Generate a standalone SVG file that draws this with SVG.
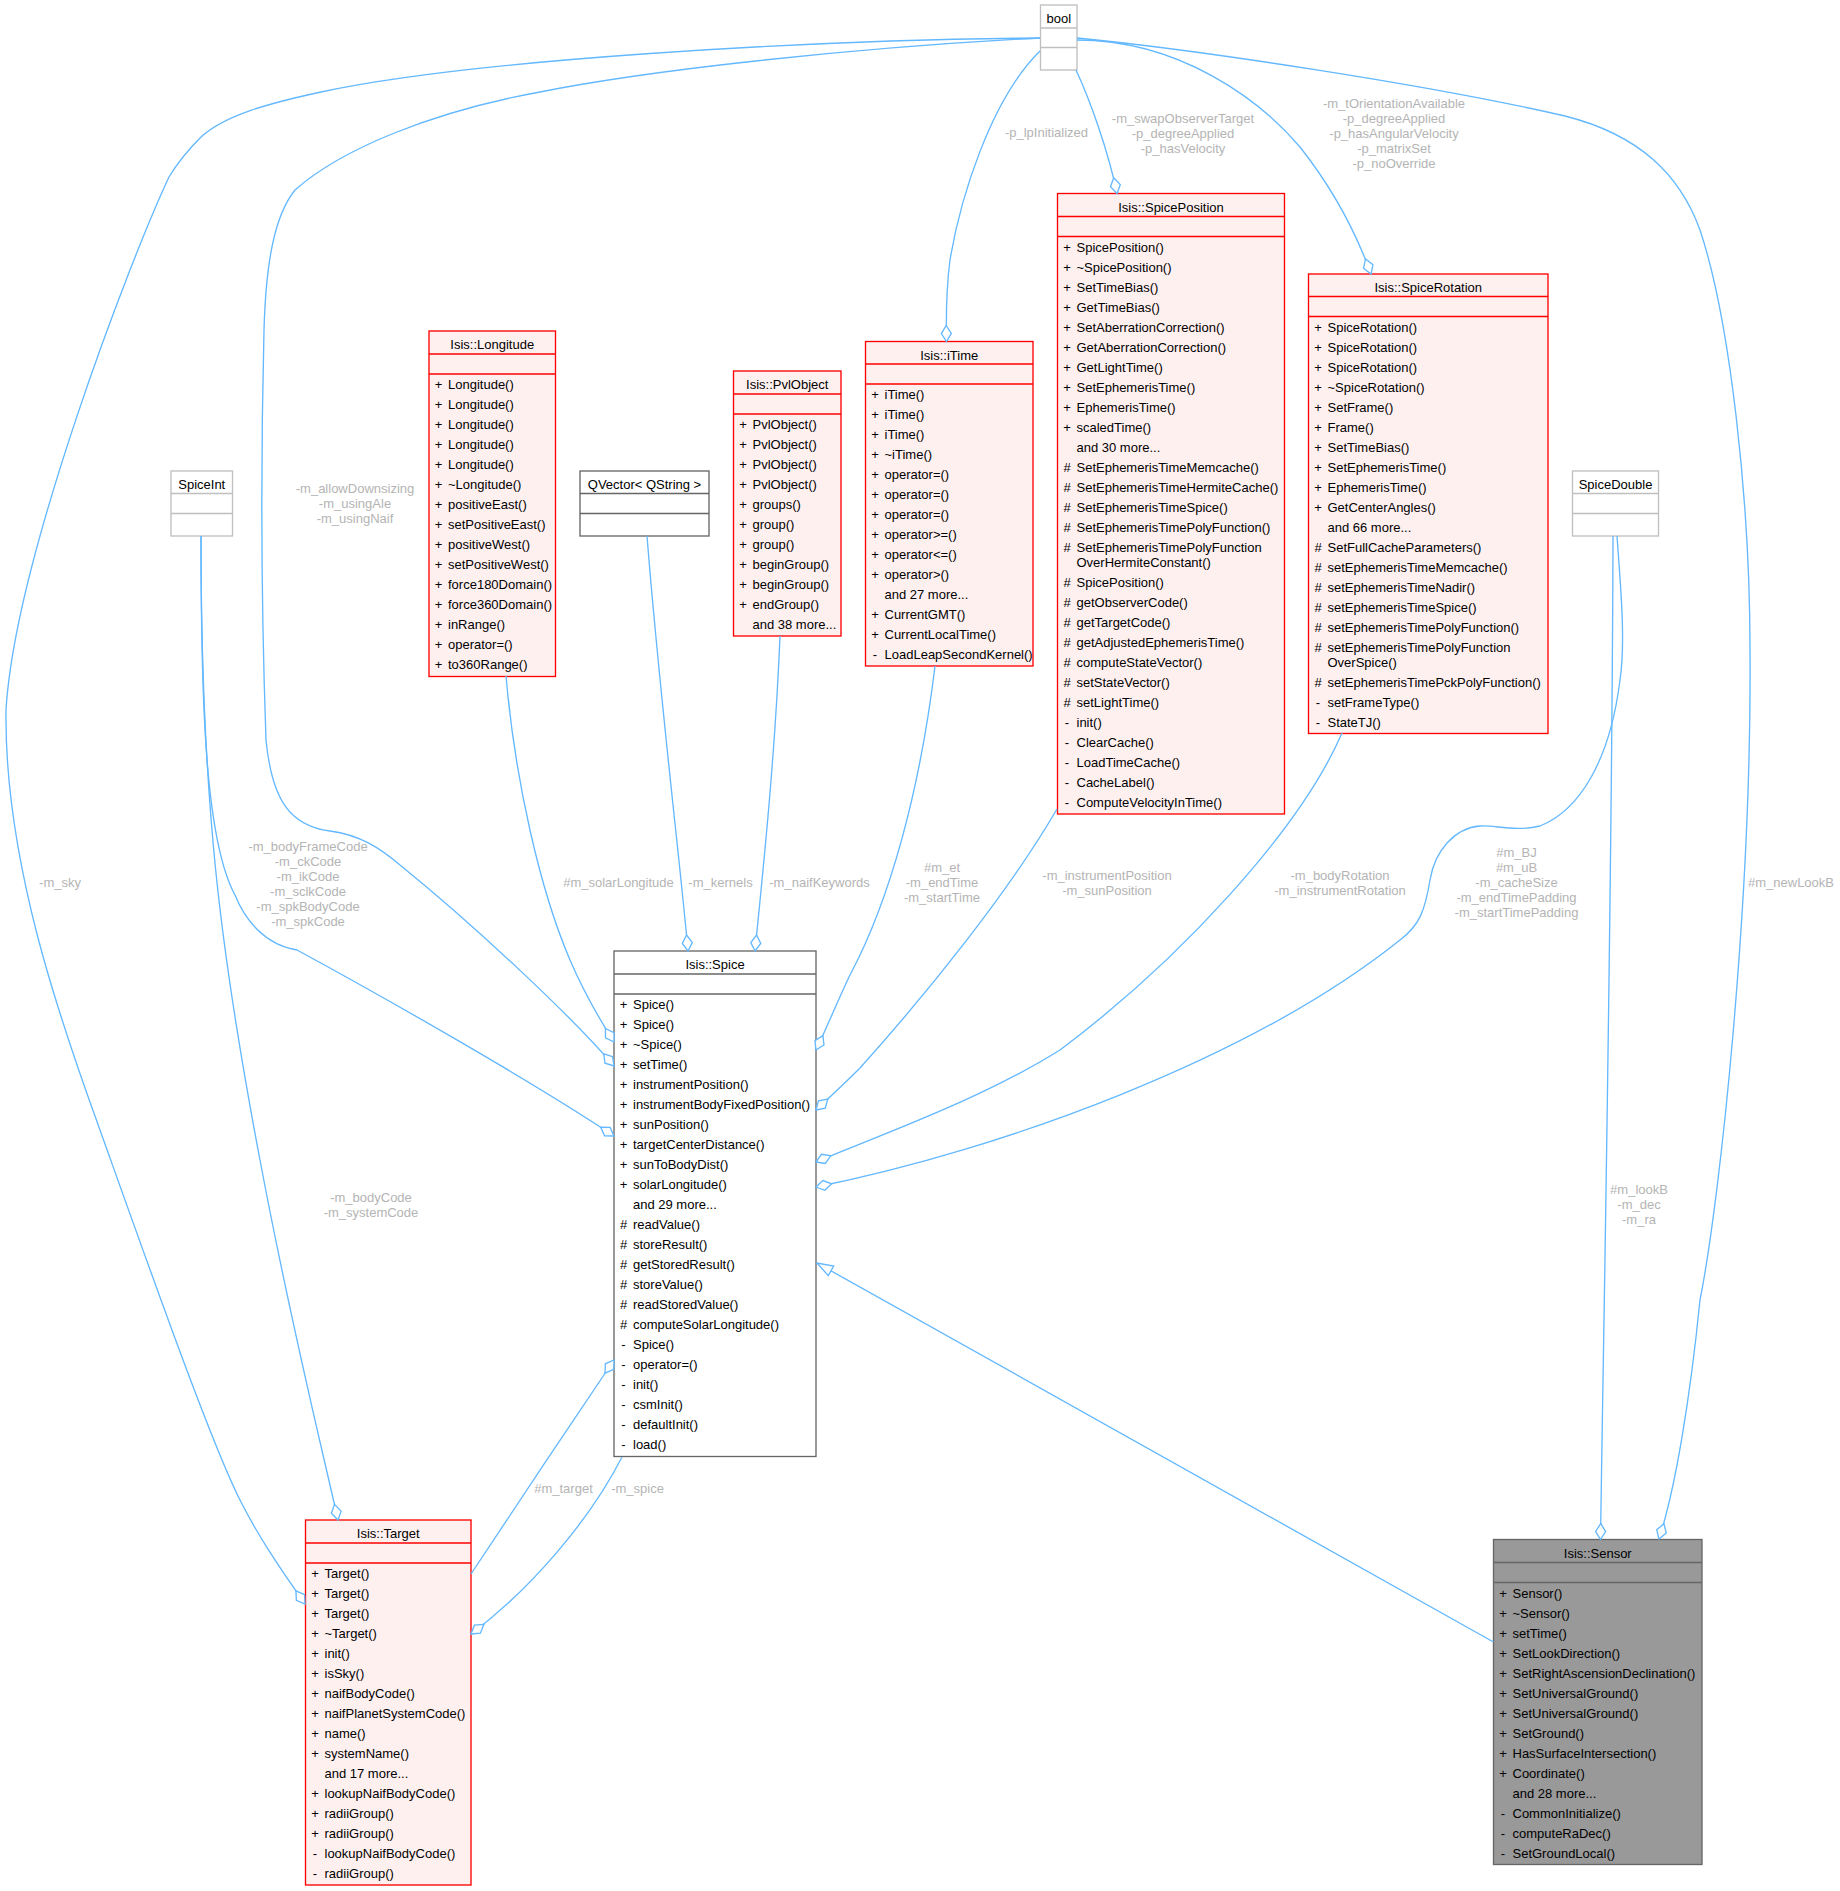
<svg xmlns="http://www.w3.org/2000/svg" width="1840" height="1891" viewBox="0 0 1840 1891">
<style>
text{font-family:"Liberation Sans",Arial,Helvetica,sans-serif;font-size:13px;fill:#000}
.m{text-anchor:middle}
.lb{fill:#b4b4b4;text-anchor:middle}
.e{fill:none;stroke:#63b8ff;stroke-width:1.33}
.red rect{fill:#fff0f0;stroke:#ff0000;stroke-width:1.33}
.red line{stroke:#ff0000;stroke-width:1.33}
.g75 rect{fill:#ffffff;stroke:#bfbfbf;stroke-width:1.33}
.g75 line{stroke:#bfbfbf;stroke-width:1.33}
.g40 rect{fill:#ffffff;stroke:#666666;stroke-width:1.33}
.g40 line{stroke:#666666;stroke-width:1.33}
.cur rect{fill:#999999;stroke:#666666;stroke-width:1.33}
.cur line{stroke:#666666;stroke-width:1.33}
</style>
<defs>
<marker id="dia" markerUnits="userSpaceOnUse" markerWidth="20" markerHeight="12" refX="0" refY="0" orient="auto" overflow="visible">
<polygon points="0,0 -8,-5 -16,0 -8,5" fill="#ffffff" stroke="#63b8ff" stroke-width="1.33"/>
</marker>
<marker id="tri" markerUnits="userSpaceOnUse" markerWidth="20" markerHeight="12" refX="0" refY="0" orient="auto" overflow="visible">
<polygon points="0,0 -16,-5.5 -16,5.5" fill="#ffffff" stroke="#63b8ff" stroke-width="1.33"/>
</marker>
</defs>
<rect x="0" y="0" width="1840" height="1891" fill="#ffffff"/>

<g id="node-bool" class="g75">
<rect x="1040.5" y="5" width="36.5" height="65"/>
<line x1="1040.5" y1="28" x2="1077" y2="28"/><line x1="1040.5" y1="47.5" x2="1077" y2="47.5"/>
<text class="m" x="1058.75" y="23">bool</text>
</g>

<g id="node-spiceint" class="g75">
<rect x="171" y="471" width="61.5" height="65"/>
<line x1="171" y1="493.5" x2="232.5" y2="493.5"/><line x1="171" y1="513.5" x2="232.5" y2="513.5"/>
<text class="m" x="201.75" y="489">SpiceInt</text>
</g>

<g id="node-qvector" class="g40">
<rect x="580" y="471" width="129" height="65"/>
<line x1="580" y1="493.5" x2="709" y2="493.5"/><line x1="580" y1="513.5" x2="709" y2="513.5"/>
<text class="m" x="644.5" y="489">QVector&lt; QString &gt;</text>
</g>

<g id="node-spicedouble" class="g75">
<rect x="1572.5" y="471" width="86" height="65"/>
<line x1="1572.5" y1="493.5" x2="1658.5" y2="493.5"/><line x1="1572.5" y1="513.5" x2="1658.5" y2="513.5"/>
<text class="m" x="1615.5" y="489">SpiceDouble</text>
</g>

<g id="node-longitude" class="red">
<rect x="429" y="331" width="126.5" height="345.5"/>
<line x1="429" y1="354" x2="555.5" y2="354"/><line x1="429" y1="374" x2="555.5" y2="374"/>
<text class="m" x="492.25" y="349">Isis::Longitude</text>
<text class="m" x="438.5" y="389">+</text><text x="448" y="389">Longitude()</text>
<text class="m" x="438.5" y="409">+</text><text x="448" y="409">Longitude()</text>
<text class="m" x="438.5" y="429">+</text><text x="448" y="429">Longitude()</text>
<text class="m" x="438.5" y="449">+</text><text x="448" y="449">Longitude()</text>
<text class="m" x="438.5" y="469">+</text><text x="448" y="469">Longitude()</text>
<text class="m" x="438.5" y="489">+</text><text x="448" y="489">~Longitude()</text>
<text class="m" x="438.5" y="509">+</text><text x="448" y="509">positiveEast()</text>
<text class="m" x="438.5" y="529">+</text><text x="448" y="529">setPositiveEast()</text>
<text class="m" x="438.5" y="549">+</text><text x="448" y="549">positiveWest()</text>
<text class="m" x="438.5" y="569">+</text><text x="448" y="569">setPositiveWest()</text>
<text class="m" x="438.5" y="589">+</text><text x="448" y="589">force180Domain()</text>
<text class="m" x="438.5" y="609">+</text><text x="448" y="609">force360Domain()</text>
<text class="m" x="438.5" y="629">+</text><text x="448" y="629">inRange()</text>
<text class="m" x="438.5" y="649">+</text><text x="448" y="649">operator=()</text>
<text class="m" x="438.5" y="669">+</text><text x="448" y="669">to360Range()</text>
</g>

<g id="node-pvlobject" class="red">
<rect x="733.5" y="371" width="107.5" height="265"/>
<line x1="733.5" y1="394" x2="841" y2="394"/><line x1="733.5" y1="414" x2="841" y2="414"/>
<text class="m" x="787.25" y="389">Isis::PvlObject</text>
<text class="m" x="743" y="429">+</text><text x="752.5" y="429">PvlObject()</text>
<text class="m" x="743" y="449">+</text><text x="752.5" y="449">PvlObject()</text>
<text class="m" x="743" y="469">+</text><text x="752.5" y="469">PvlObject()</text>
<text class="m" x="743" y="489">+</text><text x="752.5" y="489">PvlObject()</text>
<text class="m" x="743" y="509">+</text><text x="752.5" y="509">groups()</text>
<text class="m" x="743" y="529">+</text><text x="752.5" y="529">group()</text>
<text class="m" x="743" y="549">+</text><text x="752.5" y="549">group()</text>
<text class="m" x="743" y="569">+</text><text x="752.5" y="569">beginGroup()</text>
<text class="m" x="743" y="589">+</text><text x="752.5" y="589">beginGroup()</text>
<text class="m" x="743" y="609">+</text><text x="752.5" y="609">endGroup()</text>
<text x="752.5" y="629">and 38 more...</text>
</g>

<g id="node-itime" class="red">
<rect x="865.5" y="341.5" width="167.5" height="324.5"/>
<line x1="865.5" y1="364" x2="1033" y2="364"/><line x1="865.5" y1="384" x2="1033" y2="384"/>
<text class="m" x="949.25" y="359.5">Isis::iTime</text>
<text class="m" x="875" y="399">+</text><text x="884.5" y="399">iTime()</text>
<text class="m" x="875" y="419">+</text><text x="884.5" y="419">iTime()</text>
<text class="m" x="875" y="439">+</text><text x="884.5" y="439">iTime()</text>
<text class="m" x="875" y="459">+</text><text x="884.5" y="459">~iTime()</text>
<text class="m" x="875" y="479">+</text><text x="884.5" y="479">operator=()</text>
<text class="m" x="875" y="499">+</text><text x="884.5" y="499">operator=()</text>
<text class="m" x="875" y="519">+</text><text x="884.5" y="519">operator=()</text>
<text class="m" x="875" y="539">+</text><text x="884.5" y="539">operator&gt;=()</text>
<text class="m" x="875" y="559">+</text><text x="884.5" y="559">operator&lt;=()</text>
<text class="m" x="875" y="579">+</text><text x="884.5" y="579">operator&gt;()</text>
<text x="884.5" y="599">and 27 more...</text>
<text class="m" x="875" y="619">+</text><text x="884.5" y="619">CurrentGMT()</text>
<text class="m" x="875" y="639">+</text><text x="884.5" y="639">CurrentLocalTime()</text>
<text class="m" x="875" y="659">-</text><text x="884.5" y="659">LoadLeapSecondKernel()</text>
</g>

<g id="node-spiceposition" class="red">
<rect x="1057.5" y="193.5" width="227" height="620.5"/>
<line x1="1057.5" y1="216.5" x2="1284.5" y2="216.5"/><line x1="1057.5" y1="236.5" x2="1284.5" y2="236.5"/>
<text class="m" x="1171" y="211.5">Isis::SpicePosition</text>
<text class="m" x="1067" y="251.5">+</text><text x="1076.5" y="251.5">SpicePosition()</text>
<text class="m" x="1067" y="271.5">+</text><text x="1076.5" y="271.5">~SpicePosition()</text>
<text class="m" x="1067" y="291.5">+</text><text x="1076.5" y="291.5">SetTimeBias()</text>
<text class="m" x="1067" y="311.5">+</text><text x="1076.5" y="311.5">GetTimeBias()</text>
<text class="m" x="1067" y="331.5">+</text><text x="1076.5" y="331.5">SetAberrationCorrection()</text>
<text class="m" x="1067" y="351.5">+</text><text x="1076.5" y="351.5">GetAberrationCorrection()</text>
<text class="m" x="1067" y="371.5">+</text><text x="1076.5" y="371.5">GetLightTime()</text>
<text class="m" x="1067" y="391.5">+</text><text x="1076.5" y="391.5">SetEphemerisTime()</text>
<text class="m" x="1067" y="411.5">+</text><text x="1076.5" y="411.5">EphemerisTime()</text>
<text class="m" x="1067" y="431.5">+</text><text x="1076.5" y="431.5">scaledTime()</text>
<text x="1076.5" y="451.5">and 30 more...</text>
<text class="m" x="1067" y="471.5">#</text><text x="1076.5" y="471.5">SetEphemerisTimeMemcache()</text>
<text class="m" x="1067" y="491.5">#</text><text x="1076.5" y="491.5">SetEphemerisTimeHermiteCache()</text>
<text class="m" x="1067" y="511.5">#</text><text x="1076.5" y="511.5">SetEphemerisTimeSpice()</text>
<text class="m" x="1067" y="531.5">#</text><text x="1076.5" y="531.5">SetEphemerisTimePolyFunction()</text>
<text class="m" x="1067" y="551.5">#</text><text x="1076.5" y="551.5">SetEphemerisTimePolyFunction</text>
<text x="1076.5" y="566.5">OverHermiteConstant()</text>
<text class="m" x="1067" y="586.5">#</text><text x="1076.5" y="586.5">SpicePosition()</text>
<text class="m" x="1067" y="606.5">#</text><text x="1076.5" y="606.5">getObserverCode()</text>
<text class="m" x="1067" y="626.5">#</text><text x="1076.5" y="626.5">getTargetCode()</text>
<text class="m" x="1067" y="646.5">#</text><text x="1076.5" y="646.5">getAdjustedEphemerisTime()</text>
<text class="m" x="1067" y="666.5">#</text><text x="1076.5" y="666.5">computeStateVector()</text>
<text class="m" x="1067" y="686.5">#</text><text x="1076.5" y="686.5">setStateVector()</text>
<text class="m" x="1067" y="706.5">#</text><text x="1076.5" y="706.5">setLightTime()</text>
<text class="m" x="1067" y="726.5">-</text><text x="1076.5" y="726.5">init()</text>
<text class="m" x="1067" y="746.5">-</text><text x="1076.5" y="746.5">ClearCache()</text>
<text class="m" x="1067" y="766.5">-</text><text x="1076.5" y="766.5">LoadTimeCache()</text>
<text class="m" x="1067" y="786.5">-</text><text x="1076.5" y="786.5">CacheLabel()</text>
<text class="m" x="1067" y="806.5">-</text><text x="1076.5" y="806.5">ComputeVelocityInTime()</text>
</g>

<g id="node-spicerotation" class="red">
<rect x="1308.5" y="274" width="239.5" height="459.5"/>
<line x1="1308.5" y1="296.5" x2="1548" y2="296.5"/><line x1="1308.5" y1="316.5" x2="1548" y2="316.5"/>
<text class="m" x="1428.25" y="292">Isis::SpiceRotation</text>
<text class="m" x="1318" y="331.5">+</text><text x="1327.5" y="331.5">SpiceRotation()</text>
<text class="m" x="1318" y="351.5">+</text><text x="1327.5" y="351.5">SpiceRotation()</text>
<text class="m" x="1318" y="371.5">+</text><text x="1327.5" y="371.5">SpiceRotation()</text>
<text class="m" x="1318" y="391.5">+</text><text x="1327.5" y="391.5">~SpiceRotation()</text>
<text class="m" x="1318" y="411.5">+</text><text x="1327.5" y="411.5">SetFrame()</text>
<text class="m" x="1318" y="431.5">+</text><text x="1327.5" y="431.5">Frame()</text>
<text class="m" x="1318" y="451.5">+</text><text x="1327.5" y="451.5">SetTimeBias()</text>
<text class="m" x="1318" y="471.5">+</text><text x="1327.5" y="471.5">SetEphemerisTime()</text>
<text class="m" x="1318" y="491.5">+</text><text x="1327.5" y="491.5">EphemerisTime()</text>
<text class="m" x="1318" y="511.5">+</text><text x="1327.5" y="511.5">GetCenterAngles()</text>
<text x="1327.5" y="531.5">and 66 more...</text>
<text class="m" x="1318" y="551.5">#</text><text x="1327.5" y="551.5">SetFullCacheParameters()</text>
<text class="m" x="1318" y="571.5">#</text><text x="1327.5" y="571.5">setEphemerisTimeMemcache()</text>
<text class="m" x="1318" y="591.5">#</text><text x="1327.5" y="591.5">setEphemerisTimeNadir()</text>
<text class="m" x="1318" y="611.5">#</text><text x="1327.5" y="611.5">setEphemerisTimeSpice()</text>
<text class="m" x="1318" y="631.5">#</text><text x="1327.5" y="631.5">setEphemerisTimePolyFunction()</text>
<text class="m" x="1318" y="651.5">#</text><text x="1327.5" y="651.5">setEphemerisTimePolyFunction</text>
<text x="1327.5" y="666.5">OverSpice()</text>
<text class="m" x="1318" y="686.5">#</text><text x="1327.5" y="686.5">setEphemerisTimePckPolyFunction()</text>
<text class="m" x="1318" y="706.5">-</text><text x="1327.5" y="706.5">setFrameType()</text>
<text class="m" x="1318" y="726.5">-</text><text x="1327.5" y="726.5">StateTJ()</text>
</g>

<g id="node-spice" class="g40">
<rect x="614" y="951" width="202" height="505.5"/>
<line x1="614" y1="974" x2="816" y2="974"/><line x1="614" y1="994" x2="816" y2="994"/>
<text class="m" x="715" y="969">Isis::Spice</text>
<text class="m" x="623.5" y="1009">+</text><text x="633" y="1009">Spice()</text>
<text class="m" x="623.5" y="1029">+</text><text x="633" y="1029">Spice()</text>
<text class="m" x="623.5" y="1049">+</text><text x="633" y="1049">~Spice()</text>
<text class="m" x="623.5" y="1069">+</text><text x="633" y="1069">setTime()</text>
<text class="m" x="623.5" y="1089">+</text><text x="633" y="1089">instrumentPosition()</text>
<text class="m" x="623.5" y="1109">+</text><text x="633" y="1109">instrumentBodyFixedPosition()</text>
<text class="m" x="623.5" y="1129">+</text><text x="633" y="1129">sunPosition()</text>
<text class="m" x="623.5" y="1149">+</text><text x="633" y="1149">targetCenterDistance()</text>
<text class="m" x="623.5" y="1169">+</text><text x="633" y="1169">sunToBodyDist()</text>
<text class="m" x="623.5" y="1189">+</text><text x="633" y="1189">solarLongitude()</text>
<text x="633" y="1209">and 29 more...</text>
<text class="m" x="623.5" y="1229">#</text><text x="633" y="1229">readValue()</text>
<text class="m" x="623.5" y="1249">#</text><text x="633" y="1249">storeResult()</text>
<text class="m" x="623.5" y="1269">#</text><text x="633" y="1269">getStoredResult()</text>
<text class="m" x="623.5" y="1289">#</text><text x="633" y="1289">storeValue()</text>
<text class="m" x="623.5" y="1309">#</text><text x="633" y="1309">readStoredValue()</text>
<text class="m" x="623.5" y="1329">#</text><text x="633" y="1329">computeSolarLongitude()</text>
<text class="m" x="623.5" y="1349">-</text><text x="633" y="1349">Spice()</text>
<text class="m" x="623.5" y="1369">-</text><text x="633" y="1369">operator=()</text>
<text class="m" x="623.5" y="1389">-</text><text x="633" y="1389">init()</text>
<text class="m" x="623.5" y="1409">-</text><text x="633" y="1409">csmInit()</text>
<text class="m" x="623.5" y="1429">-</text><text x="633" y="1429">defaultInit()</text>
<text class="m" x="623.5" y="1449">-</text><text x="633" y="1449">load()</text>
</g>

<g id="node-target" class="red">
<rect x="305.5" y="1520" width="165.5" height="365"/>
<line x1="305.5" y1="1543" x2="471" y2="1543"/><line x1="305.5" y1="1563" x2="471" y2="1563"/>
<text class="m" x="388.25" y="1538">Isis::Target</text>
<text class="m" x="315" y="1578">+</text><text x="324.5" y="1578">Target()</text>
<text class="m" x="315" y="1598">+</text><text x="324.5" y="1598">Target()</text>
<text class="m" x="315" y="1618">+</text><text x="324.5" y="1618">Target()</text>
<text class="m" x="315" y="1638">+</text><text x="324.5" y="1638">~Target()</text>
<text class="m" x="315" y="1658">+</text><text x="324.5" y="1658">init()</text>
<text class="m" x="315" y="1678">+</text><text x="324.5" y="1678">isSky()</text>
<text class="m" x="315" y="1698">+</text><text x="324.5" y="1698">naifBodyCode()</text>
<text class="m" x="315" y="1718">+</text><text x="324.5" y="1718">naifPlanetSystemCode()</text>
<text class="m" x="315" y="1738">+</text><text x="324.5" y="1738">name()</text>
<text class="m" x="315" y="1758">+</text><text x="324.5" y="1758">systemName()</text>
<text x="324.5" y="1778">and 17 more...</text>
<text class="m" x="315" y="1798">+</text><text x="324.5" y="1798">lookupNaifBodyCode()</text>
<text class="m" x="315" y="1818">+</text><text x="324.5" y="1818">radiiGroup()</text>
<text class="m" x="315" y="1838">+</text><text x="324.5" y="1838">radiiGroup()</text>
<text class="m" x="315" y="1858">-</text><text x="324.5" y="1858">lookupNaifBodyCode()</text>
<text class="m" x="315" y="1878">-</text><text x="324.5" y="1878">radiiGroup()</text>
</g>

<g id="node-sensor" class="cur">
<rect x="1493.5" y="1539.5" width="208.5" height="325"/>
<line x1="1493.5" y1="1562.5" x2="1702" y2="1562.5"/><line x1="1493.5" y1="1582.5" x2="1702" y2="1582.5"/>
<text class="m" x="1597.75" y="1557.5">Isis::Sensor</text>
<text class="m" x="1503" y="1597.5">+</text><text x="1512.5" y="1597.5">Sensor()</text>
<text class="m" x="1503" y="1617.5">+</text><text x="1512.5" y="1617.5">~Sensor()</text>
<text class="m" x="1503" y="1637.5">+</text><text x="1512.5" y="1637.5">setTime()</text>
<text class="m" x="1503" y="1657.5">+</text><text x="1512.5" y="1657.5">SetLookDirection()</text>
<text class="m" x="1503" y="1677.5">+</text><text x="1512.5" y="1677.5">SetRightAscensionDeclination()</text>
<text class="m" x="1503" y="1697.5">+</text><text x="1512.5" y="1697.5">SetUniversalGround()</text>
<text class="m" x="1503" y="1717.5">+</text><text x="1512.5" y="1717.5">SetUniversalGround()</text>
<text class="m" x="1503" y="1737.5">+</text><text x="1512.5" y="1737.5">SetGround()</text>
<text class="m" x="1503" y="1757.5">+</text><text x="1512.5" y="1757.5">HasSurfaceIntersection()</text>
<text class="m" x="1503" y="1777.5">+</text><text x="1512.5" y="1777.5">Coordinate()</text>
<text x="1512.5" y="1797.5">and 28 more...</text>
<text class="m" x="1503" y="1817.5">-</text><text x="1512.5" y="1817.5">CommonInitialize()</text>
<text class="m" x="1503" y="1837.5">-</text><text x="1512.5" y="1837.5">computeRaDec()</text>
<text class="m" x="1503" y="1857.5">-</text><text x="1512.5" y="1857.5">SetGroundLocal()</text>
</g>

<g id="connectors">
<path class="e" marker-end="url(#dia)" d="M1040,38 C800,40 470,60 321,92 C270,103 225,115 201,137 C188,150 178,162 169,177 C130,260 15,560 6,710 C4,860 60,1020 100,1130 C150,1270 210,1440 240,1500 C260,1540 285,1575 305,1604"/>
<text class="lb" x="60" y="887">-m_sky</text>

<path class="e" marker-end="url(#dia)" d="M1040,38 C850,48 650,70 540,92 C430,112 340,150 295,190 C275,215 266,260 264,330 C261,450 261,600 266,740 C272,800 290,826 330,831 C360,835 380,848 400,865 C480,930 575,1020 614,1066"/>
<text class="lb" x="355" y="493">-m_allowDownsizing</text>
<text class="lb" x="355" y="508">-m_usingAle</text>
<text class="lb" x="355" y="523">-m_usingNaif</text>

<path class="e" marker-end="url(#dia)" d="M506,676 C515,780 540,890 570,960 C585,995 600,1020 614,1042"/>
<text class="lb" x="618.5" y="887">#m_solarLongitude</text>

<path class="e" marker-end="url(#dia)" d="M201,536 C201,700 205,840 235,895 C245,920 265,945 297,950 C380,995 530,1080 614,1136"/>
<text class="lb" x="308" y="850.5">-m_bodyFrameCode</text>
<text class="lb" x="308" y="865.5">-m_ckCode</text>
<text class="lb" x="308" y="880.5">-m_ikCode</text>
<text class="lb" x="308" y="895.5">-m_sclkCode</text>
<text class="lb" x="308" y="910.5">-m_spkBodyCode</text>
<text class="lb" x="308" y="925.5">-m_spkCode</text>

<path class="e" marker-end="url(#dia)" d="M201,536 C201,800 220,950 260,1160 C290,1320 320,1440 338,1520"/>
<text class="lb" x="371" y="1202">-m_bodyCode</text>
<text class="lb" x="371" y="1217">-m_systemCode</text>

<path class="e" marker-end="url(#dia)" d="M647,536 C660,700 680,860 688,951"/>
<text class="lb" x="720.5" y="887">-m_kernels</text>

<path class="e" marker-end="url(#dia)" d="M780,636 C775,760 762,880 755,951"/>
<text class="lb" x="819.5" y="887">-m_naifKeywords</text>

<path class="e" marker-end="url(#dia)" d="M935,666 C920,790 890,900 850,975 C838,1000 828,1025 816,1050"/>
<text class="lb" x="942" y="872">#m_et</text>
<text class="lb" x="942" y="887">-m_endTime</text>
<text class="lb" x="942" y="902">-m_startTime</text>

<path class="e" marker-end="url(#dia)" d="M1057,809 C1010,890 930,990 860,1068 C845,1083 830,1097 816,1110"/>
<text class="lb" x="1107" y="880">-m_instrumentPosition</text>
<text class="lb" x="1107" y="895">-m_sunPosition</text>

<path class="e" marker-end="url(#dia)" d="M1342,733 C1300,830 1180,960 1060,1050 C980,1100 880,1135 816,1162"/>
<text class="lb" x="1340" y="880">-m_bodyRotation</text>
<text class="lb" x="1340" y="895">-m_instrumentRotation</text>

<path class="e" marker-end="url(#dia)" d="M1617,536 C1620,580 1626,640 1620,680 C1610,760 1580,810 1540,826 C1515,832 1495,825 1480,826 C1455,828 1435,850 1430,880 C1425,910 1420,925 1400,940 C1250,1060 1000,1150 816,1187"/>
<text class="lb" x="1516.5" y="857">#m_BJ</text>
<text class="lb" x="1516.5" y="872">#m_uB</text>
<text class="lb" x="1516.5" y="887">-m_cacheSize</text>
<text class="lb" x="1516.5" y="902">-m_endTimePadding</text>
<text class="lb" x="1516.5" y="917">-m_startTimePadding</text>

<path class="e" marker-end="url(#dia)" d="M1613,536 C1612,900 1604,1300 1600.5,1539.5"/>
<text class="lb" x="1639" y="1194">#m_lookB</text>
<text class="lb" x="1639" y="1209">-m_dec</text>
<text class="lb" x="1639" y="1224">-m_ra</text>

<path class="e" marker-end="url(#dia)" d="M1077,38 C1200,50 1430,85 1565,116 C1640,135 1680,175 1700,230 C1730,320 1750,500 1750,650 C1752,900 1720,1200 1700,1300 C1690,1400 1675,1490 1659,1539"/>
<text class="lb" x="1791" y="887">#m_newLookB</text>

<path class="e" marker-end="url(#dia)" d="M1040,51 C990,100 960,200 950,260 C946,290 946,315 946.5,341.5"/>
<text class="lb" x="1046.5" y="137">-p_lpInitialized</text>

<path class="e" marker-end="url(#dia)" d="M1076,70 C1090,100 1108,150 1117,193.5"/>
<text class="lb" x="1183" y="122.5">-m_swapObserverTarget</text>
<text class="lb" x="1183" y="137.5">-p_degreeApplied</text>
<text class="lb" x="1183" y="152.5">-p_hasVelocity</text>

<path class="e" marker-end="url(#dia)" d="M1077,40 C1180,40 1260,100 1300,147 C1330,185 1355,230 1371,274"/>
<text class="lb" x="1394" y="107.5">-m_tOrientationAvailable</text>
<text class="lb" x="1394" y="122.5">-p_degreeApplied</text>
<text class="lb" x="1394" y="137.5">-p_hasAngularVelocity</text>
<text class="lb" x="1394" y="152.5">-p_matrixSet</text>
<text class="lb" x="1394" y="167.5">-p_noOverride</text>

<path class="e" marker-end="url(#dia)" d="M471,1574 C500,1530 580,1410 614,1360"/>
<text class="lb" x="563.5" y="1493">#m_target</text>

<path class="e" marker-end="url(#dia)" d="M622,1457 C590,1520 530,1590 471,1634"/>
<text class="lb" x="637.5" y="1493">-m_spice</text>

<path class="e" marker-end="url(#tri)" d="M1493.5,1642 L817,1263"/>
</g>
</svg>
